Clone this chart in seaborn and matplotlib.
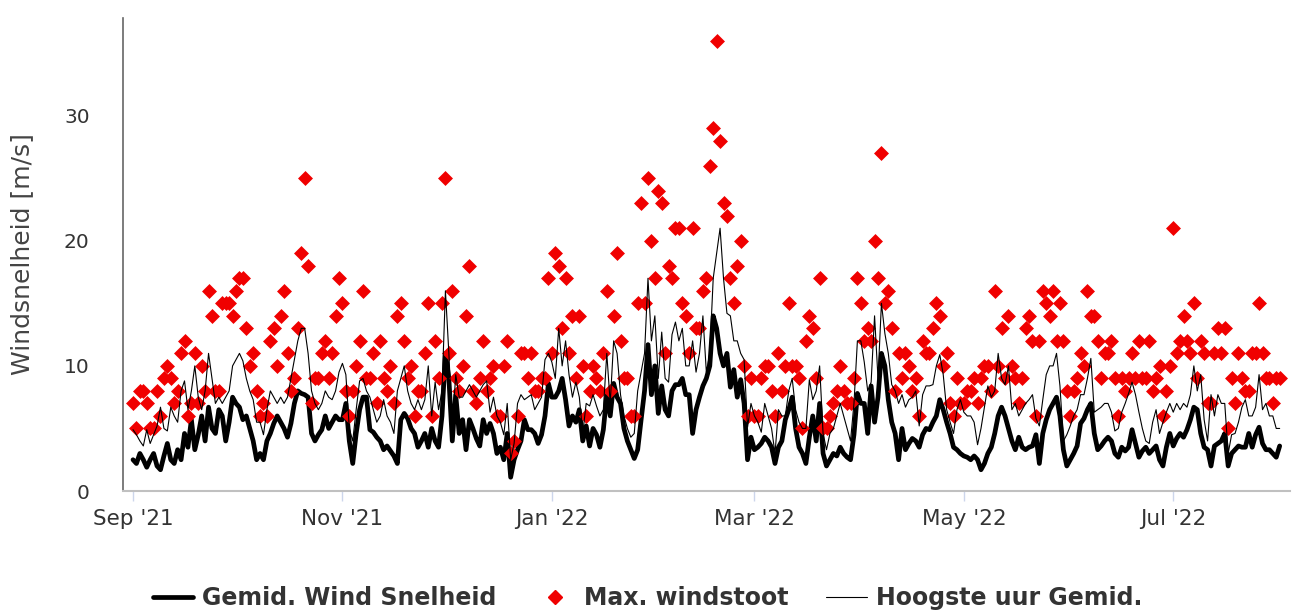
import pandas as pd
import matplotlib
matplotlib.use("Agg")
import matplotlib.pyplot as plt
import matplotlib.dates as mdates
from matplotlib.lines import Line2D
import seaborn as sns

# Dagwaarden per maand (m/s): max. windstoot, daggemiddelde, hoogste uurgemiddelde
sep_gust = [7, 5, 8, 8, 7, 5, 5, 8, 6, 9, 10, 9, 7, 8, 11, 12, 6, 7, 11, 7, 10, 8, 16, 14, 8, 8, 15, 15, 15, 14]
sep_mean = [2.5, 2.2, 3.0, 2.5, 1.9, 2.5, 3.0, 2.0, 1.7, 2.8, 3.8, 2.5, 2.2, 3.3, 2.5, 4.6, 3.5, 5.7, 3.3, 4.5,
            6.0, 4.0, 6.7, 5.0, 4.6, 6.5, 6.0, 4.0, 5.5, 7.5]
sep_hour = [4.9, 4.5, 4.0, 3.6, 4.9, 3.8, 4.5, 5.2, 6.7, 5.0, 4.8, 6.7, 6.0, 5.5, 8.0, 8.8, 6.5, 8.0, 10.0, 7.5,
            6.5, 8.0, 11.0, 9.0, 7.0, 7.5, 7.0, 7.5, 8.0, 10.0]

oct_gust = [16, 17, 17, 13, 10, 11, 8, 6, 7, 6, 12, 13, 10, 14, 16, 11, 8, 9, 13, 19, 25, 18, 7, 9, 9, 11, 12, 9, 11, 14, 17]
oct_mean = [7.0, 6.7, 5.7, 6.0, 5.0, 4.0, 2.5, 3.0, 2.5, 4.0, 4.6, 5.4, 6.0, 5.5, 5.0, 4.3, 5.4, 7.0, 8.0, 7.8,
            7.7, 7.5, 4.6, 4.0, 4.5, 4.9, 6.0, 5.0, 5.5, 6.0, 5.7]
oct_hour = [10.5, 11.0, 10.4, 9.0, 8.0, 7.3, 5.5, 5.5, 4.5, 6.5, 8.0, 7.5, 7.0, 7.5, 7.0, 7.5, 9.0, 10.5, 12.0, 13.0,
            13.0, 11.0, 8.0, 7.0, 6.5, 7.0, 8.0, 7.5, 7.3, 8.0, 9.5]

nov_gust = [15, 8, 6, 8, 10, 12, 16, 9, 9, 11, 7, 12, 9, 8, 10, 7, 14, 15, 12, 9, 10, 6, 8, 8, 11, 15, 6, 12, 9, 15]
nov_mean = [5.7, 7.0, 4.0, 2.2, 4.6, 6.5, 7.5, 7.5, 4.9, 4.7, 4.3, 4.0, 3.3, 3.6, 3.2, 2.8, 2.2, 5.7, 6.2, 5.8,
            5.0, 4.6, 3.5, 4.0, 4.6, 3.5, 5.0, 4.0, 3.5, 6.0]
nov_hour = [10.2, 9.3, 5.0, 4.0, 6.5, 8.8, 9.0, 8.0, 7.5, 6.5, 5.5, 6.0, 7.3, 6.0, 5.5, 4.6, 8.0, 9.0, 10.0, 8.0,
            7.0, 6.5, 7.3, 6.5, 7.3, 10.0, 6.0, 8.7, 6.5, 8.0]

dec_gust = [25, 11, 16, 9, 8, 10, 14, 18, 8, 7, 9, 12, 8, 9, 10, 6, 6, 10, 12, 3, 4, 6, 11, 11, 9, 11, 8, 8, 9, 9, 17]
dec_mean = [11.0, 9.0, 4.0, 7.7, 4.6, 5.7, 3.3, 5.7, 5.0, 4.2, 3.6, 5.7, 4.6, 5.4, 4.6, 3.0, 3.5, 2.5, 4.6, 1.1,
            2.5, 3.3, 4.0, 5.7, 4.9, 4.9, 4.6, 3.8, 4.5, 6.0, 8.6]
dec_hour = [16.0, 11.0, 5.0, 9.3, 7.5, 7.5, 8.0, 8.5, 8.0, 7.5, 8.0, 8.5, 8.8, 6.3, 7.5, 6.0, 5.5, 4.5, 7.0, 2.5,
            3.8, 7.0, 7.7, 7.3, 7.5, 7.7, 6.5, 7.0, 7.5, 10.5, 11.0]

jan_gust = [11, 19, 18, 13, 17, 11, 14, 9, 14, 10, 6, 8, 10, 9, 8, 11, 16, 8, 14, 19, 12, 9, 9, 6, 6, 15, 23, 15, 25, 20, 17]
jan_mean = [7.5, 7.5, 8.0, 9.0, 7.3, 5.2, 6.0, 5.5, 6.5, 4.0, 5.2, 3.6, 5.0, 4.5, 3.5, 4.9, 7.7, 6.0, 8.6, 7.5,
            7.0, 5.0, 4.0, 3.3, 2.6, 3.3, 5.7, 8.0, 11.7, 7.7, 10.0]
jan_hour = [10.3, 9.0, 13.0, 10.0, 12.0, 9.3, 7.5, 8.7, 7.5, 4.6, 7.0, 6.8, 7.7, 6.8, 6.0, 6.5, 11.0, 7.0, 12.0, 11.0,
            7.7, 6.0, 5.0, 4.3, 4.6, 8.0, 9.5, 11.0, 17.0, 12.0, 14.0]

feb_gust = [24, 23, 11, 18, 17, 21, 21, 15, 14, 11, 21, 13, 13, 16, 17, 26, 29, 36, 28, 23, 22, 17, 15, 18, 20, 10, 6, 9]
feb_mean = [6.2, 8.4, 6.5, 6.0, 8.0, 8.5, 8.5, 9.0, 7.7, 7.7, 4.6, 6.5, 7.5, 8.4, 9.0, 10.0, 14.0, 13.0, 11.0, 10.0,
            11.0, 8.3, 9.7, 7.5, 8.9, 7.0, 2.5, 4.3]
feb_hour = [9.0, 12.7, 9.0, 8.7, 12.5, 13.5, 12.0, 13.0, 10.0, 10.0, 12.0, 9.5, 11.0, 14.0, 9.5, 11.0, 17.0, 19.0, 21.0, 17.0,
            14.2, 14.0, 12.0, 12.0, 11.0, 10.5, 5.1, 7.0]

mar_gust = [6, 6, 9, 10, 10, 8, 6, 11, 8, 10, 15, 10, 10, 9, 5, 12, 14, 13, 9, 17, 5, 5, 6, 7, 8, 10, 8, 7, 7, 9, 17]
mar_mean = [3.3, 3.5, 3.8, 4.3, 4.0, 3.5, 2.2, 3.5, 4.0, 5.7, 6.5, 7.5, 5.0, 3.5, 3.0, 2.2, 4.3, 6.0, 4.0, 7.0,
            3.0, 2.0, 2.5, 3.0, 2.8, 3.5, 3.0, 2.7, 2.5, 4.5, 7.8]
mar_hour = [6.0, 5.5, 4.7, 7.0, 6.0, 5.0, 3.0, 6.5, 6.0, 6.0, 8.0, 9.0, 6.5, 5.5, 5.0, 5.0, 8.9, 7.3, 8.0, 10.0,
            4.6, 3.3, 4.6, 5.0, 6.0, 7.0, 6.0, 5.0, 4.0, 7.0, 12.0]

apr_gust = [15, 12, 13, 12, 20, 17, 27, 15, 16, 13, 8, 11, 9, 11, 10, 8, 9, 6, 12, 11, 11, 13, 15, 14, 10, 11, 7, 6, 9, 7]
apr_mean = [7.0, 7.0, 4.6, 8.4, 5.5, 7.5, 11.0, 10.0, 7.3, 5.5, 4.6, 2.5, 5.0, 3.3, 3.8, 4.2, 4.0, 3.5, 4.5, 5.0,
            4.9, 5.5, 6.0, 7.3, 6.5, 5.5, 4.6, 3.5, 3.3, 3.0]
apr_hour = [12.0, 10.3, 8.0, 8.7, 14.0, 9.0, 15.0, 12.6, 11.0, 8.5, 8.0, 7.0, 7.7, 6.7, 7.3, 7.5, 8.0, 5.2, 7.7, 8.4,
            8.4, 8.5, 10.0, 10.9, 9.3, 6.5, 5.5, 4.6, 6.5, 7.3]

may_gust = [7, 8, 8, 9, 7, 9, 10, 10, 8, 16, 10, 13, 9, 14, 10, 9, 7, 9, 13, 14, 12, 6, 12, 16, 15, 14, 16, 12, 15, 12, 8]
may_mean = [2.8, 2.7, 2.5, 2.8, 2.5, 1.7, 2.2, 3.0, 3.5, 4.6, 6.0, 6.7, 6.0, 5.0, 4.0, 3.3, 4.3, 3.5, 3.3, 3.5,
            3.6, 4.5, 2.2, 4.6, 5.7, 6.5, 7.0, 7.5, 6.0, 3.3, 2.0]
may_hour = [6.3, 6.0, 6.0, 5.5, 3.7, 5.0, 6.7, 8.4, 7.5, 8.0, 11.0, 9.0, 8.5, 10.0, 6.5, 7.0, 6.0, 6.5, 7.0, 7.3,
            7.7, 5.8, 5.2, 7.3, 9.3, 10.0, 10.0, 11.0, 8.4, 4.0, 4.5]

jun_gust = [6, 8, 9, 11, 10, 16, 14, 14, 12, 9, 11, 11, 12, 9, 6, 9, 8, 9, 11, 9, 12, 9, 9, 12, 8, 9, 10, 6, 8, 10]
jun_mean = [2.5, 3.0, 3.6, 5.4, 5.8, 6.5, 7.0, 4.6, 3.3, 3.6, 4.0, 4.3, 4.0, 3.0, 2.7, 3.5, 3.2, 3.5, 4.9, 3.8,
            2.7, 3.2, 3.5, 3.0, 3.3, 3.6, 2.5, 2.0, 3.5, 4.6]
jun_hour = [5.2, 6.0, 6.5, 7.7, 7.7, 9.0, 10.6, 6.3, 6.5, 6.7, 7.0, 7.0, 6.3, 4.8, 5.0, 6.3, 7.0, 7.8, 8.7, 7.7,
            6.3, 5.0, 4.0, 3.8, 5.5, 6.5, 4.6, 5.5, 6.3, 7.0]

jul_gust = [21, 11, 12, 14, 12, 11, 15, 9, 12, 11, 7, 7, 11, 13, 11, 13, 5, 9, 7, 11, 9, 8, 8, 11, 11, 15, 11, 9, 9, 7, 9]
jul_mean = [3.6, 4.2, 4.6, 4.3, 4.9, 5.7, 6.7, 6.5, 4.6, 3.5, 3.3, 2.0, 3.6, 3.8, 4.0, 4.6, 2.0, 3.0, 3.3, 3.6,
            3.5, 3.5, 4.6, 3.5, 4.5, 5.1, 3.8, 3.3, 3.3, 3.0, 2.7]
jul_hour = [6.3, 7.0, 6.5, 7.0, 6.7, 7.7, 10.0, 8.0, 9.3, 5.7, 4.0, 7.7, 6.0, 7.7, 7.0, 7.0, 3.0, 4.5, 4.6, 5.5,
            6.7, 7.3, 6.0, 6.0, 6.7, 9.3, 6.5, 7.0, 6.0, 6.0, 5.0]

aug_gust = [9]
aug_mean = [3.6]
aug_hour = [5.0]

MONTHS = [
    ("2021-09-01", sep_gust, sep_mean, sep_hour),
    ("2021-10-01", oct_gust, oct_mean, oct_hour),
    ("2021-11-01", nov_gust, nov_mean, nov_hour),
    ("2021-12-01", dec_gust, dec_mean, dec_hour),
    ("2022-01-01", jan_gust, jan_mean, jan_hour),
    ("2022-02-01", feb_gust, feb_mean, feb_hour),
    ("2022-03-01", mar_gust, mar_mean, mar_hour),
    ("2022-04-01", apr_gust, apr_mean, apr_hour),
    ("2022-05-01", may_gust, may_mean, may_hour),
    ("2022-06-01", jun_gust, jun_mean, jun_hour),
    ("2022-07-01", jul_gust, jul_mean, jul_hour),
    ("2022-08-01", aug_gust, aug_mean, aug_hour),
]

LABELS = ["Gemid. Wind Snelheid", "Max. windstoot", "Hoogste uur Gemid."]
RED = "#f00000"

frames = []
for start, gust, mean, hour in MONTHS:
    frames.append(pd.DataFrame({
        "datum": pd.date_range(start, periods=len(gust), freq="D"),
        "windstoot": gust,
        "gemiddeld": mean,
        "uur": hour,
    }))
df = pd.concat(frames, ignore_index=True)

sns.set_theme(style="white")
plt.rcParams["font.family"] = ["DejaVu Sans"]

fig = plt.figure(figsize=(13.03, 6.15), dpi=100)
ax = fig.add_axes([0.0944, 0.2016, 0.8956, 0.7691])

sns.lineplot(data=df, x="datum", y="gemiddeld", color="black", linewidth=3.4, ax=ax, zorder=2)
sns.scatterplot(data=df, x="datum", y="windstoot", marker="D", s=58, color=RED, linewidth=0, ax=ax, zorder=3)
sns.lineplot(data=df, x="datum", y="uur", color="black", linewidth=0.8, ax=ax, zorder=4)

ax.set_xlim(pd.Timestamp("2021-08-29 02:00"), pd.Timestamp("2022-08-04"))
ax.set_ylim(0, 37.8)
ax.set_yticks([0, 10, 20, 30])
ax.xaxis.set_major_locator(mdates.MonthLocator(bymonth=[1, 3, 5, 7, 9, 11]))
ax.xaxis.set_major_formatter(mdates.DateFormatter("%b '%y"))

ax.tick_params(axis="y", left=False, length=0, pad=24, labelsize=14.5, labelcolor="#333333")
ax.tick_params(axis="x", bottom=True, length=7, width=1, color="#ccd6eb", pad=6,
               labelsize=15.5, labelcolor="#333333", direction="out")
ax.grid(False)

for side in ["top", "right"]:
    ax.spines[side].set_visible(False)
ax.spines["left"].set_color("#666666")
ax.spines["left"].set_linewidth(1.2)
ax.spines["bottom"].set_color("#c0c0c0")
ax.spines["bottom"].set_linewidth(1.5)

ax.set_xlabel("")
ax.set_ylabel("Windsnelheid [m/s]", fontsize=18, color="#444444")
ax.yaxis.set_label_coords(-0.076, 0.5)

handles = [
    Line2D([], [], color="black", linewidth=3.4),
    Line2D([], [], color=RED, marker="D", linestyle="none", markersize=7.5),
    Line2D([], [], color="black", linewidth=0.8),
]
fig.legend(handles, LABELS, loc="center", bbox_to_anchor=(0.497, 0.028), ncol=3, frameon=False,
           prop={"weight": "bold", "size": 17}, labelcolor="#333333",
           handlelength=1.7, handletextpad=0.4, columnspacing=1.6)

fig.savefig("out.png", dpi=100)
